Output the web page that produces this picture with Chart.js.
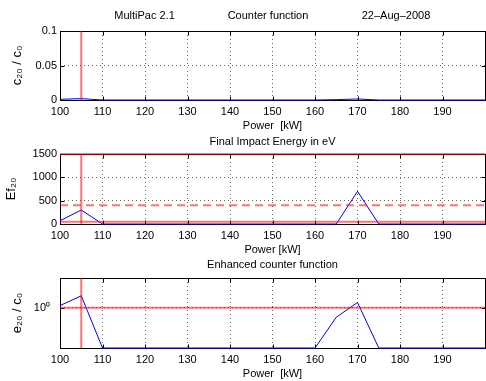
<!DOCTYPE html>
<html>
<head>
<meta charset="utf-8">
<script src="https://cdn.jsdelivr.net/npm/chart.js@4.4.0/dist/chart.umd.min.js"></script>
<style>
html,body{margin:0;padding:0;background:#fff;overflow:hidden;width:486px;height:381px}
canvas{position:absolute;left:0;top:0}
</style>
</head>
<body>
<canvas id="c1" width="490" height="381"></canvas>
<canvas id="c2" width="490" height="381"></canvas>
<canvas id="c3" width="490" height="381"></canvas>
<script>
// --- data (power sweep, 5 kW steps) ---
const power = [100,105,110,115,120,125,130,135,140,145,150,155,160,165,170,175,180,185,190,195,200];
const counterRatio = [0.001,0.002,0,0,0,0,0,0,0,0,0,0,0,0.0005,0.0015,0,0,0,0,0,0];
const impactEnergy = [70,300,0,0,0,0,0,0,0,0,0,0,0,0,700,0,0,0,0,0,0];
const enhancedRatio = [1.05,1.32,0.39,0.39,0.39,0.39,0.39,0.39,0.39,0.39,0.39,0.39,0.39,0.8,1.13,0.39,0.39,0.39,0.39,0.39,0.39];
const markerPower = 105;
const energyTop = 1500, energyDashed = 400, energyLow = 50;
const enhancedRef = 1;
const counterRange = [0,0.1], energyRange = [0,1500], enhancedRange = [0.39,2];

const RED='rgba(255,0,0,0.55)', BLUE='#0000ff';
Chart.defaults.font.family='"Liberation Sans", Arial, sans-serif';
Chart.defaults.font.size=11;
Chart.defaults.color='#000';

const pts=ys=>power.map((x,i)=>({x,y:ys[i]}));
const vline=(x,r)=>[{x,y:r[0]},{x,y:r[1]}];
const hline=y=>[{x:power[0],y},{x:power[power.length-1],y}];
const line=(data,color,w,dash)=>({data,borderColor:color,borderWidth:w,borderDash:dash||[],
  pointRadius:0,tension:0,fill:false,clip:false});

// box, inward tick marks and the text over each axes
const frame={
  id:'frame',
  beforeDatasetsDraw(chart,args,o){
    const {ctx,chartArea:a,scales:{x,y}}=chart;
    const L=Math.round(a.left)+.5,R=Math.round(a.right)+.5,T=Math.round(a.top)+.5,B=Math.round(a.bottom)+.5;
    ctx.save();
    ctx.strokeStyle='#000'; ctx.lineWidth=1;
    ctx.strokeRect(L,T,R-L,B-T);
    ctx.beginPath();
    x.ticks.forEach(t=>{
      const px=Math.round(x.getPixelForValue(t.value))+.5;
      ctx.moveTo(px,B); ctx.lineTo(px,B-4); ctx.moveTo(px,T); ctx.lineTo(px,T+4);
    });
    y.ticks.forEach(t=>{
      if(o.only!==undefined&&Math.abs(t.value-o.only)>1e-9) return;
      const py=Math.round(y.getPixelForValue(t.value))+.5;
      ctx.moveTo(L,py); ctx.lineTo(L+4,py); ctx.moveTo(R,py); ctx.lineTo(R-4,py);
    });
    ctx.stroke(); ctx.restore();
  },
  afterDraw(chart,args,o){
    const {ctx,chartArea:a}=chart;
    const cx=(a.left+a.right)/2;
    ctx.save();
    ctx.fillStyle='#000'; ctx.font='11px "Liberation Sans", Arial, sans-serif';
    ctx.textAlign='center'; ctx.textBaseline='middle';
    (o.texts||[]).forEach(t=>ctx.fillText(t.text,cx+t.dx,a.top+t.dy));
    ctx.restore();
  }
};

function xScale(label){
  return {type:'linear',min:power[0],max:power[power.length-1],
    ticks:{stepSize:10,padding:5,autoSkip:false,maxRotation:0,callback:v=>v<200?String(v):''},
    grid:{color:'#666',drawTicks:false,borderDash:[1,3]},
    border:{display:false,dash:[1,3]},
    title:{display:true,text:label,font:{size:11},padding:{top:0,bottom:0}},
    afterFit:s=>{s.height=33;}};
}
function yScale(extra,label,tpad){
  return Object.assign({
    grid:{color:'#666',drawTicks:false,borderDash:[1,3]},
    border:{display:false,dash:[1,3]},
    title:{display:true,text:label,font:{size:13},padding:{top:tpad,bottom:0}},
    afterFit:s=>{s.width=60;}},extra);
}
function make(id,top,bottom,datasets,y,xlabel,frameOpts){
  return new Chart(document.getElementById(id),{
    type:'line',
    data:{datasets},
    options:{responsive:false,animation:false,parsing:true,
      layout:{padding:{top,bottom,left:0,right:3}},
      plugins:{legend:{display:false},tooltip:{enabled:false},title:{display:false},frame:frameOpts},
      scales:{x:xScale(xlabel),y}},
    plugins:[frame]
  });
}

make('c1',31,381-133,[
  line(vline(markerPower,counterRange),RED,2),
  line(pts(counterRatio),BLUE,1)
],yScale({type:'linear',min:counterRange[0],max:counterRange[1],
  ticks:{stepSize:0.05,padding:3,callback:v=>String(+v.toFixed(4))}},'c₂₀ / c₀',10),'Power  [kW]',
  {texts:[{text:'MultiPac 2.1',dx:-128,dy:-15},{text:'Counter function',dx:-4.5,dy:-15},{text:'22–Aug–2008',dx:123.5,dy:-15}]});

make('c2',154,381-257,[
  line(hline(energyTop),'#ff0000',1),
  line(hline(energyDashed),RED,2,[8,5]),
  line(hline(energyLow),RED,2),
  line(vline(markerPower,energyRange),RED,2),
  line(pts(impactEnergy),BLUE,1)
],yScale({type:'linear',min:energyRange[0],max:energyRange[1],
  ticks:{stepSize:500,padding:3,callback:v=>String(v)}},'Ef₂₀',4),'Power [kW]',
  {texts:[{text:'Final Impact Energy in eV',dx:0,dy:-12}]});

make('c3',278,381-381,[
  line(hline(enhancedRef),RED,2),
  line(vline(markerPower,enhancedRange),RED,2),
  line(pts(enhancedRatio),BLUE,1)
],yScale({type:'logarithmic',min:enhancedRange[0],max:enhancedRange[1],
  ticks:{padding:10,autoSkip:false,callback:v=>Math.abs(v-1)<1e-9?'10⁰':''},
  grid:{drawTicks:false,borderDash:[1,3],color:c=>c.tick&&Math.abs(c.tick.value-1)<1e-9?'#666':'rgba(0,0,0,0)'}},
  'e₂₀ / c₀',10),'Power  [kW]',
  {only:1,texts:[{text:'Enhanced counter function',dx:0,dy:-13}]});
</script>
</body>
</html>
